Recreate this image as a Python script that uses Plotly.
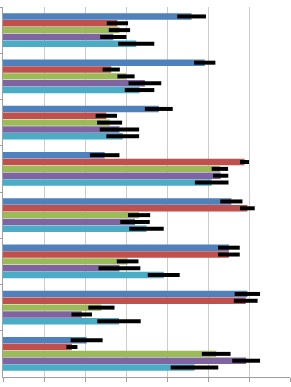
import plotly.graph_objects as go

categories = ["G1", "G2", "G3", "G4", "G5", "G6", "G7", "G8"]
series_names = ["Series 1", "Series 2", "Series 3", "Series 4", "Series 5"]
colors = ["#4F81BD", "#C0504D", "#9BBB59", "#8064A2", "#4BACC6"]

s1 = [46.0, 49.2, 38.0, 24.8, 55.7, 55.1, 59.6, 20.4]
s2 = [27.9, 26.4, 25.2, 58.9, 59.6, 55.1, 59.2, 16.8]
s3 = [28.4, 30.0, 26.0, 52.9, 33.2, 30.4, 24.0, 52.0]
s4 = [26.9, 34.6, 28.4, 53.1, 32.2, 28.4, 19.2, 59.3]
s5 = [32.5, 33.3, 29.2, 50.9, 35.0, 39.2, 28.3, 46.7]

e1 = [3.5, 2.6, 3.4, 3.6, 2.7, 2.65, 3.1, 3.9]
e2 = [2.6, 2.1, 2.6, 1.1, 1.8, 2.65, 2.9, 1.35]
e3 = [2.6, 2.1, 3.05, 2.0, 2.7, 2.65, 3.2, 3.5]
e4 = [3.2, 4.0, 4.8, 1.85, 3.6, 5.1, 2.5, 3.4]
e5 = [4.4, 3.6, 4.0, 4.1, 4.2, 3.9, 5.3, 5.8]

values = [s1, s2, s3, s4, s5]
errors = [e1, e2, e3, e4, e5]

fig = go.Figure()
for name, col, v, e in zip(series_names, colors, values, errors):
    fig.add_trace(go.Bar(
        y=categories, x=v, orientation="h", name=name,
        marker=dict(color=col, line=dict(width=0)),
        error_x=dict(type="data", array=e, visible=True,
                     color="black", thickness=4, width=0),
    ))

fig.update_layout(
    width=291, height=387,
    margin=dict(l=3, r=1, t=7, b=10),
    paper_bgcolor="white", plot_bgcolor="white",
    barmode="group", bargap=0.26, bargroupgap=0.06,
    showlegend=False,
    xaxis=dict(range=[0, 70], dtick=10, showgrid=True, gridcolor="#CCCCCC",
               gridwidth=1, zeroline=False, showline=True, linecolor="#A0A0A0",
               ticks="outside", ticklen=4, tickcolor="#A0A0A0",
               showticklabels=False),
    yaxis=dict(autorange="reversed", showgrid=False, showline=True,
               linecolor="#A0A0A0", ticks="outside", ticklen=3,
               tickcolor="#A0A0A0", tickson="boundaries",
               showticklabels=False),
)

fig.write_html("out.html")
